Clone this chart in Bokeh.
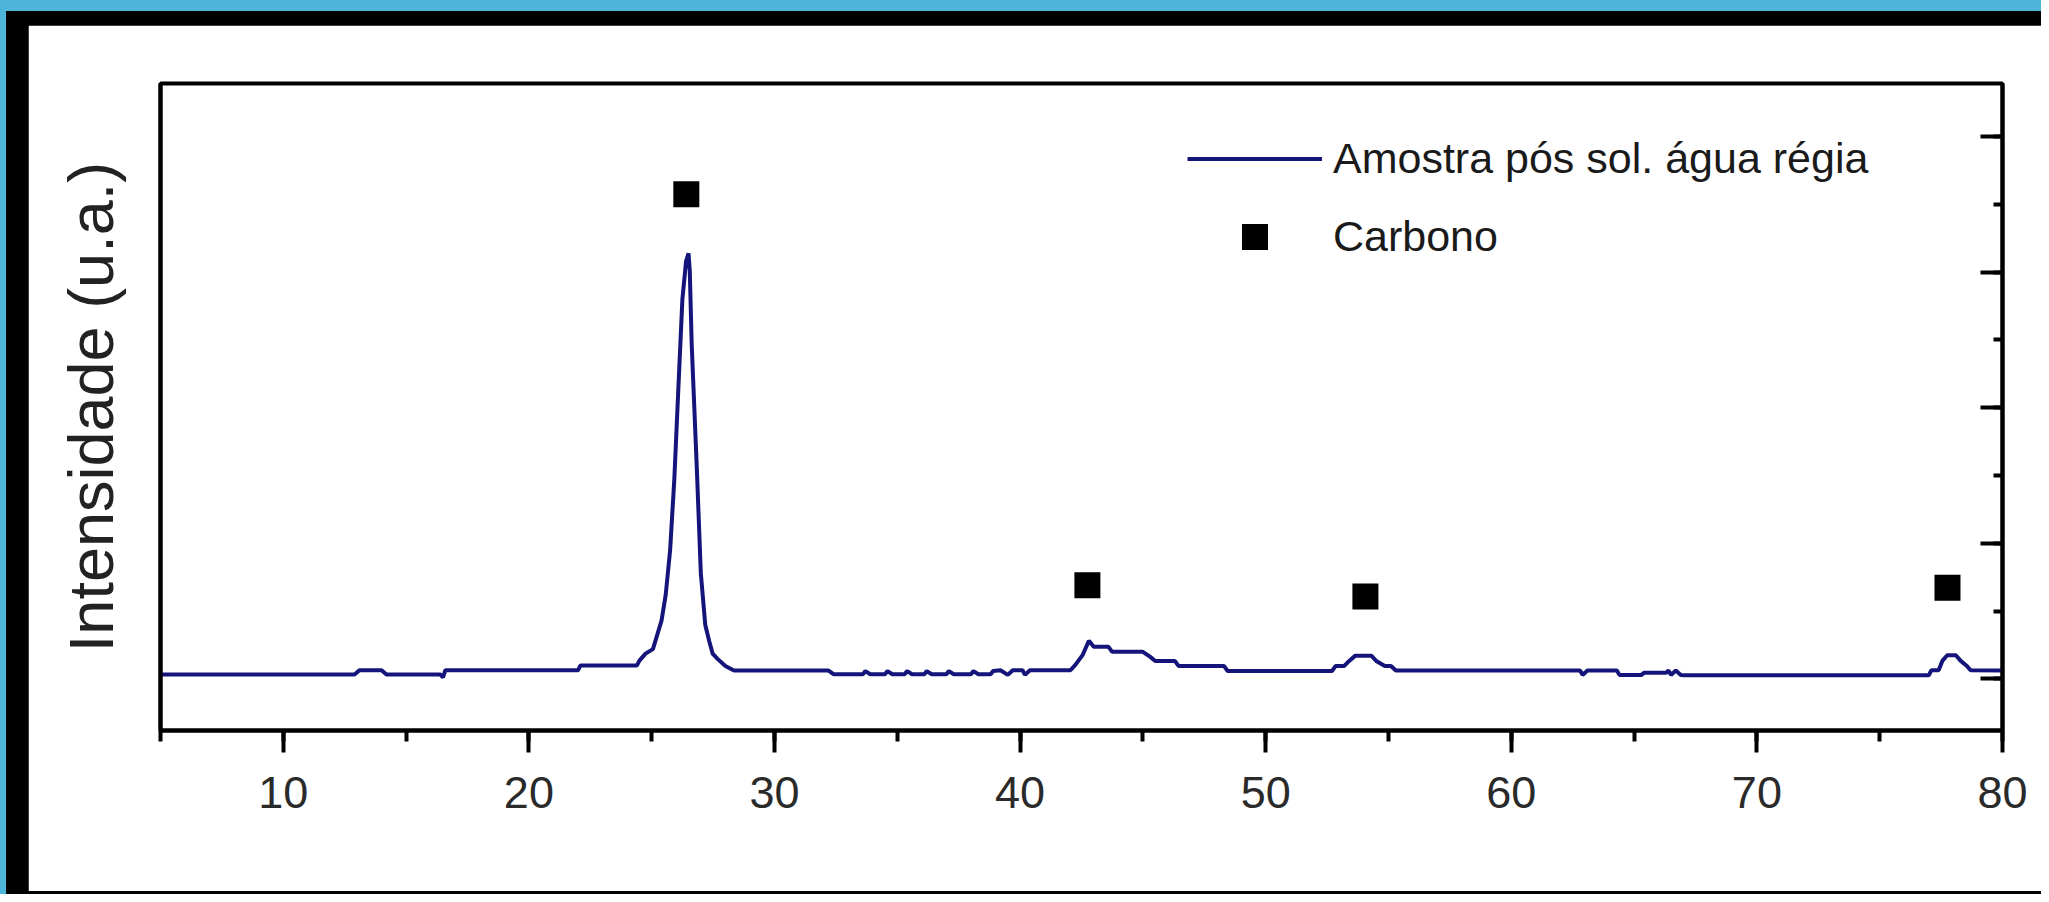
from bokeh.plotting import figure
from bokeh.layouts import column
from bokeh.models import (LinearAxis, SingleIntervalTicker, FixedTicker, Range1d,
                          Legend, LegendItem)
from bokeh.embed import file_html
from bokeh.resources import INLINE

# ---- data ----
two_theta = [5.0, 12.9, 13.1, 14.0, 14.2, 16.4, 16.5, 16.6, 22.0, 22.1, 24.4, 24.5,
             24.75, 25.05, 25.25, 25.4, 25.57, 25.75, 25.92, 26.09, 26.25, 26.4, 26.5,
             26.55, 26.63, 26.84, 27.0, 27.18, 27.34, 27.48, 27.68, 28.0, 28.35, 32.2,
             32.4, 33.6, 33.7, 33.9, 34.5, 34.6, 34.8, 35.3, 35.4, 35.6, 36.1, 36.2,
             36.4, 37.0, 37.1, 37.3, 38.0, 38.1, 38.3, 38.8, 38.9, 39.2, 39.5, 39.7,
             40.1, 40.2, 40.4, 42.05, 42.25, 42.55, 42.8, 43.0, 43.6, 43.75, 45.0,
             45.3, 45.5, 46.3, 46.45, 48.3, 48.45, 52.7, 52.85, 53.2, 53.4, 53.65,
             54.3, 54.5, 54.85, 55.1, 55.3, 62.8, 62.9, 63.1, 64.3, 64.4, 65.3, 65.4,
             66.3, 66.4, 66.5, 66.7, 66.9, 67.05, 77.0, 77.1, 77.4, 77.55, 77.75,
             78.1, 78.3, 78.55, 78.7, 80.0]
intensity = [32, 32, 64, 64, 32, 32, 12, 64, 64, 100, 100, 135,
             187, 220, 340, 430, 620, 950, 1470, 2160, 2800, 3080, 3137,
             3010, 2460, 1540, 780, 400, 280, 187, 148, 96, 62, 62,
             35, 35, 58, 35, 35, 58, 35, 35, 58, 35, 35, 58,
             35, 35, 58, 35, 35, 58, 35, 35, 58, 64, 30, 64,
             64, 30, 64, 64, 104, 178, 281, 237, 237, 200, 200,
             163, 133, 133, 96, 96, 59, 59, 96, 96, 133, 172,
             172, 133, 96, 96, 62, 62, 30, 62, 62, 30, 30, 45,
             45, 62, 30, 62, 30, 27, 27, 64, 64, 133, 175,
             175, 133, 96, 64, 62]

carbono_x = [26.41, 42.74, 54.06, 77.76]
carbono_y = [3573, 691, 607, 673]

x_ticks_interval = 10
y_ticks_interval = 1000

series_label = "Amostra pós sol. água régia"
marker_label = "Carbono"
y_label = "Intensidade (u.a.)"

FONT = "Liberation Sans"
W, H = 2013, 866   # white card; the slide frame is added around it by CSS

p = figure(width=W, height=H, output_backend="svg", toolbar_location=None,
           x_range=Range1d(5, 80), y_range=Range1d(-380, 4390),
           min_border_left=132, min_border_right=39, min_border_top=58,
           min_border_bottom=161)
p.grid.visible = False
p.background_fill_color = "white"
p.border_fill_color = "white"
p.outline_line_color = "black"
p.outline_line_width = 4

# bottom axis
xa = p.xaxis[0]
xa.ticker = SingleIntervalTicker(interval=x_ticks_interval, num_minor_ticks=2)
xa.axis_line_width = 4
xa.major_tick_in = 0
xa.major_tick_out = 22
xa.minor_tick_in = 0
xa.minor_tick_out = 11
xa.major_tick_line_width = 4
xa.minor_tick_line_width = 4
xa.major_label_standoff = 24
xa.major_label_text_font = FONT
xa.major_label_text_font_size = "45px"
xa.major_label_text_color = "#2a2a2a"

# left axis: only the title
ya = p.yaxis[0]
ya.ticker = FixedTicker(ticks=[])
ya.axis_line_width = 4
ya.major_tick_line_color = None
ya.minor_tick_line_color = None
ya.major_label_text_color = None
ya.axis_label = y_label
ya.axis_label_text_font = FONT
ya.axis_label_text_font_size = "63px"
ya.axis_label_text_font_style = "normal"
ya.axis_label_text_color = "#222222"
ya.axis_label_standoff = 35

# right axis: inward ticks, no numbers
ra = LinearAxis(ticker=SingleIntervalTicker(interval=y_ticks_interval, num_minor_ticks=2),
                axis_line_width=4, major_tick_in=22, major_tick_out=0,
                minor_tick_in=9, minor_tick_out=0, major_tick_line_width=4,
                minor_tick_line_width=4, major_label_text_color=None)
p.add_layout(ra, "right")

r_line = p.line(two_theta, intensity, line_color="#14147a", line_width=4)
r_sq = p.scatter(carbono_x, carbono_y, marker="square", size=26,
                 fill_color="black", line_color=None)

legend = Legend(items=[LegendItem(label=series_label, renderers=[r_line]),
                       LegendItem(label=marker_label, renderers=[r_sq])],
                location=(1027, 461), glyph_width=135, glyph_height=65,
                label_height=65, label_standoff=11, spacing=13, padding=0, margin=0,
                border_line_color=None, background_fill_alpha=0,
                label_text_font=FONT, label_text_font_size="43px",
                label_text_color="#1a1a1a")
p.add_layout(legend)

# slide frame (blue band + black border) around the white card
page = column(p, styles={"background-color": "black",
                         "border-top": "11px solid #4db4da",
                         "border-left": "6px solid #4db4da",
                         "padding-top": "14px", "padding-left": "22px",
                         "padding-bottom": "3px", "padding-right": "0px"})

open("out.html", "w").write(file_html(page, INLINE))
